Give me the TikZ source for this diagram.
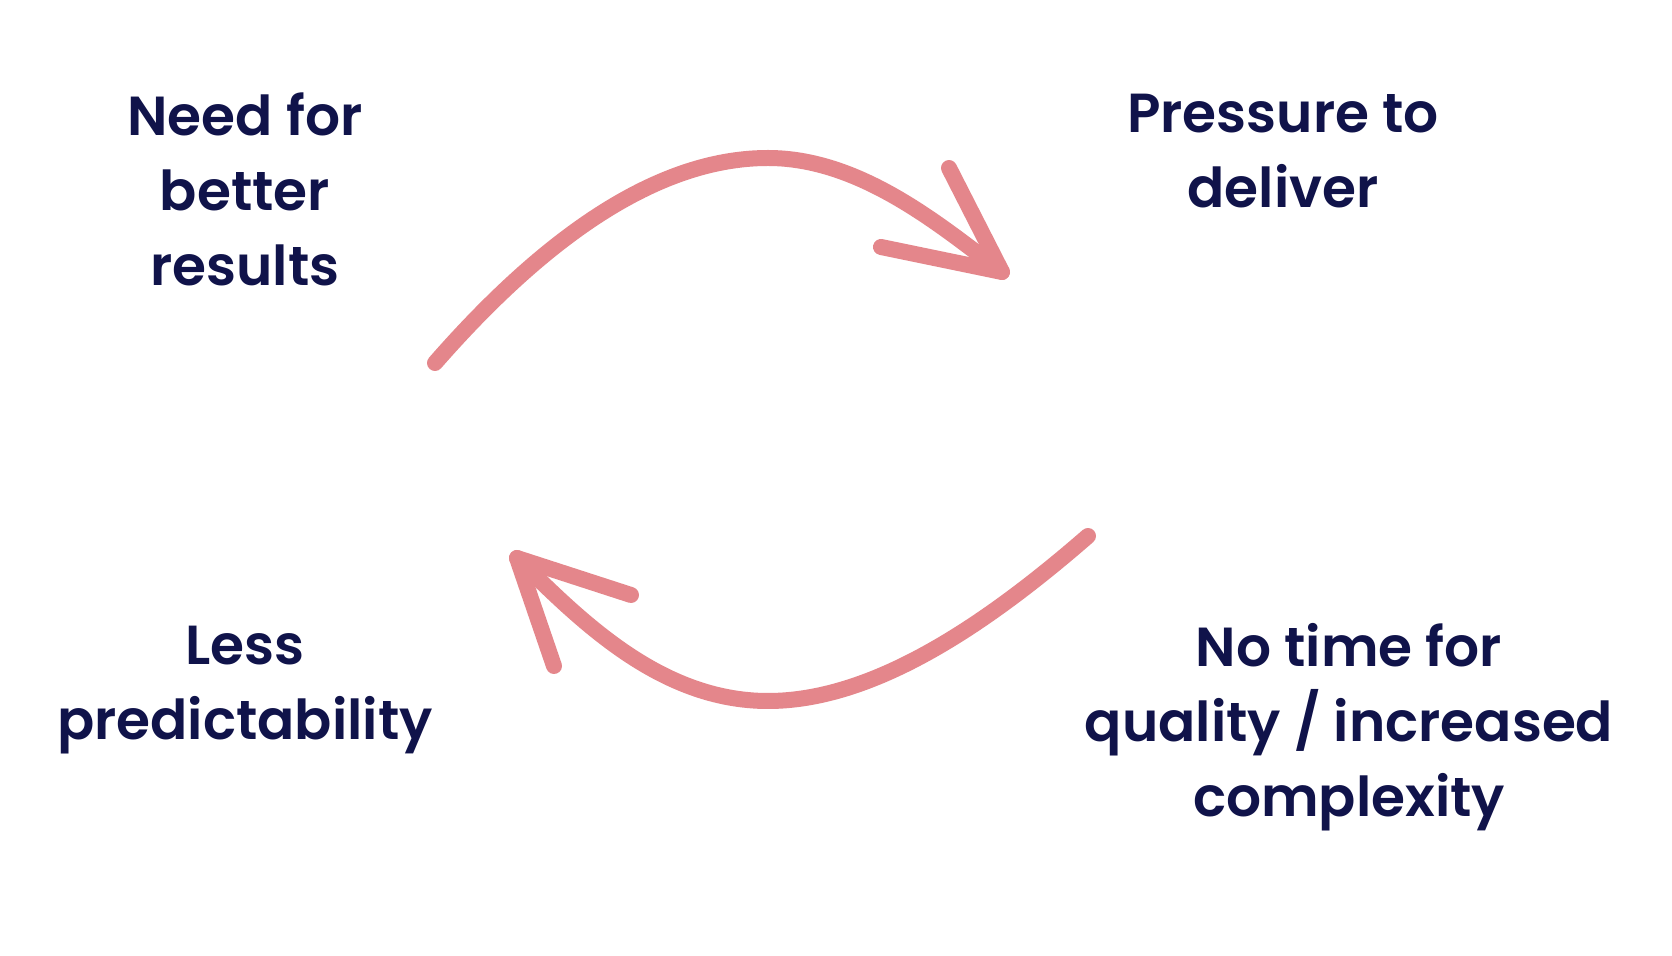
\documentclass[tikz,border=0pt]{standalone}
\usepackage{fontspec}
\setmainfont{Poppins}[BoldFont={Poppins SemiBold}]
\definecolor{navy}{HTML}{10134A}
\definecolor{rose}{HTML}{E4868B}
\begin{document}
\begin{tikzpicture}[x=0.5pt,y=-0.5pt,
  lbl/.style={align=center,text=navy,font=\fontsize{27.5}{37.5}\selectfont\bfseries,inner sep=0pt},
  stroke/.style={draw=rose,line width=8pt,line cap=round,line join=round}]
\useasboundingbox[fill=white] (0,0) rectangle (1672,956);
\node[lbl] (need) at (245,189) {Need for\\better\\results};
\node[lbl] (press) at (1283,151) {Pressure to\\deliver};
\node[lbl] (less) at (245,690) {Less\\predictability};
\node[lbl] (notime) at (1349,727) {No time for\\quality / increased\\complexity};
% top arrow
\coordinate (a1s) at (435,363);
\coordinate (a1p) at (768,158);
\coordinate (a1t) at (1002,272);
\coordinate (a1b1) at (949,168);
\coordinate (a1b2) at (881,247);
\draw[stroke] (a1s) .. controls (560,220) and (670,158) .. (a1p) .. controls (860,158) and (940,225) .. (a1t);
\draw[stroke] (a1b1) -- (a1t) -- (a1b2);
% bottom arrow
\coordinate (a2s) at (1088,536);
\coordinate (a2p) at (768,701);
\coordinate (a2t) at (517,558);
\coordinate (a2b1) at (631,595);
\coordinate (a2b2) at (554,666);
\draw[stroke] (a2s) .. controls (980,630) and (870,701) .. (a2p) .. controls (660,701) and (580,620) .. (a2t);
\draw[stroke] (a2b1) -- (a2t) -- (a2b2);
\end{tikzpicture}
\end{document}
